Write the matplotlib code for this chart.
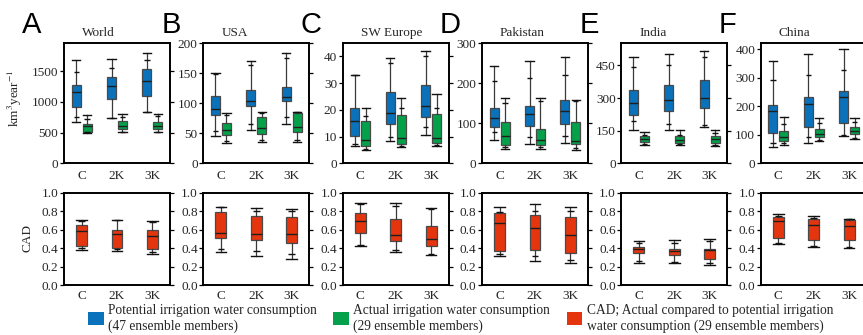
import matplotlib
matplotlib.use("Agg")
import matplotlib.pyplot as plt
from matplotlib.patches import Patch

plt.rcParams['font.family'] = ['Liberation Serif', 'DejaVu Serif']
plt.rcParams['mathtext.fontset'] = 'stix'

regions = ["World", "USA", "SW Europe", "Pakistan", "India", "China"]
letters = ["A", "B", "C", "D", "E", "F"]
scenarios = ["C", "2K", "3K"]
top_ylim = [1960, 200, 45, 300, 553, 422]
top_yticks = [[0, 500, 1000, 1500], [0, 50, 100, 150, 200], [0, 10, 20, 30, 40],
              [0, 100, 200, 300], [0, 150, 300, 450], [0, 100, 200, 300, 400]]
cad_yticks = [0.0, 0.2, 0.4, 0.6, 0.8, 1.0]

# each box: [whisker low, inner low, q1, median, q3, inner high, whisker high]
potential = [
    [[677, 749, 923, 1169, 1279, 1487, 1677], [743, 743, 1054, 1262, 1405, 1552, 1705], [841, 841, 1098, 1344, 1536, 1689, 1798]],
    [[45, 54, 80, 90, 112, 149, 150], [56, 66, 95, 103, 122, 163, 170], [66, 77, 103, 110, 127, 175, 184]],
    [[6.5, 7.2, 10.3, 16, 20.6, 33, 33.1], [8.4, 10, 14.6, 18.7, 26.6, 37.4, 39.3], [10.6, 13.7, 17.2, 21.6, 29.3, 40.3, 42]],
    [[58, 77, 90, 112, 137, 205, 243], [48, 66, 94, 122, 144, 212, 256], [51, 68, 97, 130, 158, 220, 266]],
    [[151, 193, 224, 275, 339, 442, 488], [151, 182, 239, 293, 359, 451, 501], [167, 178, 255, 298, 382, 490, 516]],
    [[56, 71, 108, 184, 204, 291, 359], [71, 91, 126, 207, 233, 310, 385], [97, 99, 141, 231, 254, 326, 400]],
]
actual = [
    [[500, 510, 513, 600, 645, 725, 795], [503, 510, 552, 610, 683, 759, 803], [503, 515, 557, 611, 677, 765, 803]],
    [[34.5, 37, 47, 55, 67, 80, 83], [35.5, 38, 49.5, 58, 77, 83, 85.5], [35.5, 38, 52, 61, 83, 85, 85.5]],
    [[5, 5.5, 6.6, 8.7, 16, 17.6, 20.6], [6.2, 6.5, 7.1, 9.4, 18.1, 20.6, 24.6], [6.6, 7, 7.5, 9.4, 18.5, 20.6, 26]],
    [[36, 40, 46, 69, 104, 150, 164], [36, 40, 46, 58, 86, 156, 162], [33, 38, 47, 55, 103, 155, 158]],
    [[82, 90, 96, 112, 124, 131, 142], [82, 88, 93, 108, 124, 131, 155], [78, 85, 93, 112, 124, 140, 155]],
    [[65, 70, 79, 93, 114, 137, 161], [79, 82, 93, 102, 120, 143, 160], [85, 90, 102, 112, 126, 145, 160]],
]
cad = [
    [[0.382, 0.40, 0.422, 0.582, 0.647, 0.69, 0.702], [0.367, 0.385, 0.404, 0.556, 0.60, 0.70, 0.702], [0.338, 0.356, 0.385, 0.527, 0.593, 0.68, 0.691]],
    [[0.356, 0.385, 0.513, 0.567, 0.793, 0.84, 0.847], [0.309, 0.364, 0.491, 0.556, 0.745, 0.80, 0.836], [0.284, 0.338, 0.458, 0.556, 0.738, 0.80, 0.818]],
    [[0.422, 0.43, 0.567, 0.695, 0.775, 0.88, 0.891], [0.356, 0.382, 0.473, 0.545, 0.72, 0.855, 0.884], [0.32, 0.338, 0.422, 0.502, 0.636, 0.818, 0.836]],
    [[0.309, 0.338, 0.364, 0.673, 0.785, 0.793, 0.84], [0.265, 0.309, 0.375, 0.622, 0.756, 0.804, 0.876], [0.236, 0.276, 0.349, 0.545, 0.738, 0.80, 0.847]],
    [[0.24, 0.265, 0.349, 0.385, 0.411, 0.45, 0.476], [0.24, 0.25, 0.32, 0.364, 0.393, 0.45, 0.484], [0.222, 0.24, 0.284, 0.375, 0.393, 0.476, 0.495]],
    [[0.447, 0.45, 0.513, 0.695, 0.738, 0.745, 0.764], [0.411, 0.42, 0.484, 0.655, 0.713, 0.73, 0.745], [0.40, 0.41, 0.484, 0.636, 0.709, 0.715, 0.72]],
]
legend_labels = ["Potential irrigation water consumption\n(47 ensemble members)",
                 "Actual irrigation water consumption\n(29 ensemble members)",
                 "CAD; Actual compared to potential irrigation\nwater consumption (29 ensemble members)"]

BLUE = "#0A72BA"
GREEN = "#05A04A"
RED = "#E4350F"
EDGE = "#4a4a4a"
TXT = "#262626"

W, H = 863, 335
fig = plt.figure(figsize=(W / 100, H / 100), dpi=100)


def draw_boxes(ax, boxes, positions, color, width):
    stats = []
    for b in boxes:
        stats.append(dict(whislo=b[0], q1=b[2], med=b[3], q3=b[4], whishi=b[6], fliers=[]))
    ax.bxp(stats, positions=positions, widths=width, patch_artist=True, showfliers=False,
           capwidths=width * 0.95,
           boxprops=dict(facecolor=color, edgecolor=EDGE, linewidth=0.9),
           medianprops=dict(color="#1e1e1e", linewidth=1.0),
           whiskerprops=dict(color="#3a3a3a", linewidth=0.9),
           capprops=dict(color="#111111", linewidth=1.0))
    for b, p in zip(boxes, positions):
        ax.hlines([b[1], b[5]], p - width * 0.3, p + width * 0.3, color="#111111", linewidth=1.0)


def style_axes(ax, yticks, ylim):
    ax.set_xlim(0.5, 3.5)
    ax.set_ylim(0, ylim)
    ax.set_yticks(yticks)
    for s in ax.spines.values():
        s.set_linewidth(1.4)
        s.set_color("black")
    ax.tick_params(axis='y', left=True, right=True, direction='out', length=3, width=0.9,
                   labelsize=9.5, pad=1, labelcolor=TXT)
    ax.set_xticks([1, 2, 3])
    ax.set_xticklabels(scenarios)
    ax.tick_params(axis='x', length=0, labelsize=9.5, labelcolor=TXT)


lefts_px = [64, 203.3, 342.7, 482, 621.3, 760.7]
aw = 106 / W
for i in range(6):
    x0 = lefts_px[i] / W
    ax = fig.add_axes([x0, (H - 163.3) / H, aw, (163.3 - 43) / H])
    pos = [1, 2, 3]
    draw_boxes(ax, potential[i], [p - 0.155 for p in pos], BLUE, 0.25)
    draw_boxes(ax, actual[i], [p + 0.155 for p in pos], GREEN, 0.25)
    style_axes(ax, top_yticks[i], top_ylim[i])
    ax.tick_params(axis='x', pad=5)
    ax.text(0.17, 1.03, regions[i], transform=ax.transAxes, ha='left', va='bottom',
            fontsize=9.5, color=TXT)
    fig.text((lefts_px[i] - 42) / W, (H - 33) / H, letters[i], ha='left', va='baseline',
             fontsize=21, family='Liberation Sans', color='black')

    axb = fig.add_axes([x0, (H - 285) / H, aw, (285 - 192.7) / H])
    draw_boxes(axb, cad[i], pos, RED, 0.31)
    style_axes(axb, cad_yticks, 1.0)
    axb.set_yticklabels([f"{t:.1f}" for t in cad_yticks])
    axb.tick_params(axis='x', pad=3.5)

fig.text(15 / W, (H - 98) / H, "km$^3$year$^{-1}$", rotation=90, ha='center', va='center',
         fontsize=9.5, color=TXT)
fig.text(27 / W, (H - 238) / H, "CAD", rotation=90, ha='center', va='center',
         fontsize=9.5, color=TXT)

handles = [Patch(facecolor=BLUE, edgecolor='none'),
           Patch(facecolor=GREEN, edgecolor='none'),
           Patch(facecolor=RED, edgecolor='none')]
fig.legend(handles, legend_labels, ncol=3, loc='upper left', bbox_to_anchor=(88 / W, (H - 304) / H),
           frameon=False, fontsize=9.75, handlelength=1.15, handleheight=1.15, handletextpad=0.3,
           columnspacing=1.25, borderpad=0, borderaxespad=0, labelcolor=TXT)

fig.savefig("out.png", dpi=100)
